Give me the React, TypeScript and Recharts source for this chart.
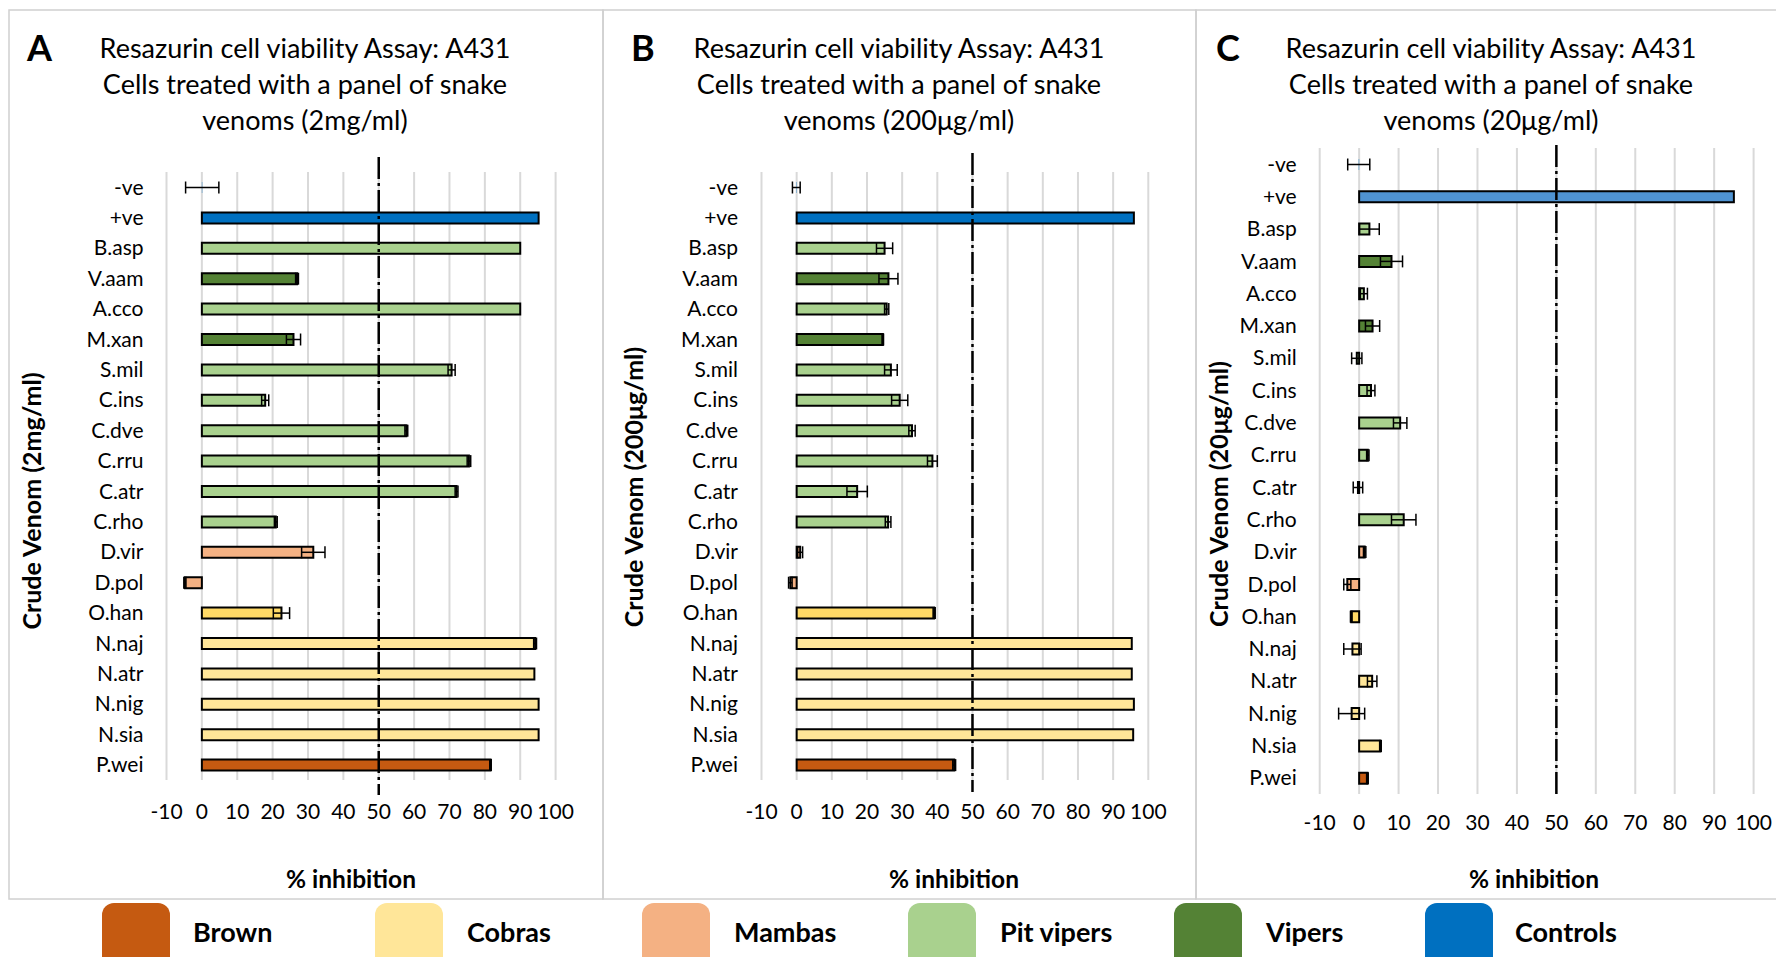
import React from 'react';
import { BarChart, Bar, XAxis, YAxis, CartesianGrid, ErrorBar, ReferenceLine, Cell } from 'recharts';

const FONT = 'Lato, "Open Sans", "Noto Sans", sans-serif';

const categories = ['-ve', '+ve', 'B.asp', 'V.aam', 'A.cco', 'M.xan', 'S.mil', 'C.ins', 'C.dve', 'C.rru', 'C.atr', 'C.rho', 'D.vir', 'D.pol', 'O.han', 'N.naj', 'N.atr', 'N.nig', 'N.sia', 'P.wei'];
const groupOf = ['Controls', 'Controls', 'Pit vipers', 'Vipers', 'Pit vipers', 'Vipers', 'Pit vipers', 'Pit vipers', 'Pit vipers', 'Pit vipers', 'Pit vipers', 'Pit vipers', 'Mambas', 'Mambas', 'Cobras', 'Cobras', 'Cobras', 'Cobras', 'Cobras', 'Brown'];
const xTicks = [-10, 0, 10, 20, 30, 40, 50, 60, 70, 80, 90, 100];

const valuesA = [0.1, 95.2, 90.0, 26.9, 90.0, 25.9, 70.6, 17.9, 57.8, 75.5, 72.0, 20.9, 31.5, -4.8, 22.5, 94.2, 94.0, 95.2, 95.2, 81.6];
const errA = [4.7, 0, 0, 0.4, 0, 2.0, 1.0, 1.0, 0.4, 0.5, 0.4, 0.4, 3.3, 0.3, 2.3, 0.4, 0, 0, 0, 0.2];

const valuesB = [-0.1, 95.9, 25.0, 26.1, 25.6, 24.5, 26.8, 29.3, 32.8, 38.6, 17.2, 26.0, 1.0, -1.8, 39.1, 95.3, 95.3, 95.9, 95.7, 44.8];
const errB = [1.1, 0, 2.3, 2.7, 0.6, 0.2, 1.8, 2.3, 0.9, 1.4, 2.9, 0.8, 0.7, 0.5, 0.3, 0, 0, 0, 0, 0.4];

const valuesC = [-0.1, 95.0, 2.6, 8.2, 1.2, 3.4, -0.6, 3.0, 10.4, 2.2, -0.3, 11.3, 1.4, -3.0, -2.0, -1.7, 3.3, -1.9, 5.4, 2.1];
const errC = [2.8, 0, 2.5, 2.8, 0.9, 1.8, 1.3, 1.0, 1.7, 0.3, 1.2, 3.1, 0.3, 0.9, 0.2, 2.2, 1.2, 3.3, 0.2, 0.2];

const legendItems = ['Brown', 'Cobras', 'Mambas', 'Pit vipers', 'Vipers', 'Controls'];

const titleLine1 = 'Resazurin cell viability Assay: A431';
const titleLine2 = 'Cells treated with a panel of snake';
const titleLine3 = ['venoms (2mg/ml)', 'venoms (200μg/ml)', 'venoms (20μg/ml)'];
const yTitles = ['Crude Venom (2mg/ml)', 'Crude Venom (200μg/ml)', 'Crude Venom (20μg/ml)'];
const panelLetters = ['A', 'B', 'C'];
const xTitle = '% inhibition';

const groupColors: Record<string, string> = {
  Brown: '#C55A11',
  Cobras: '#FFE699',
  Mambas: '#F4B183',
  'Pit vipers': '#A9D18E',
  Vipers: '#548235',
  Controls: '#0070C0',
};
const kingCobraColor = '#FFD966';

function buildData(vals: number[], errs: number[]) {
  return categories.map((name, i) => ({ name, value: vals[i], err: errs[i], group: groupOf[i] }));
}

const dataA = buildData(valuesA, errA);
const dataB = buildData(valuesB, errB);
const dataC = buildData(valuesC, errC);

const XAXIS_H = 40;
const CHART_H = 899;

type PanelProps = {
  left: number;
  width: number;
  data: any[];
  plotTop: number;
  plotBottom: number;
  plotLeft: number;
  plotRight: number;
  yTickGap: number;
  xTickGap: number;
  extAbove: number;
  extBelow: number;
  posColor: string;
};

function Panel(p: PanelProps) {
  const shape = (props: any) => {
    const x1 = props.x1 ?? 0;
    const x2 = props.x2 ?? x1;
    const ya = Math.min(props.y1 ?? 0, props.y2 ?? 0);
    const yb = Math.max(props.y1 ?? 0, props.y2 ?? 0);
    return (
      <line
        x1={x1}
        x2={x2}
        y1={ya - p.extAbove}
        y2={yb + p.extBelow}
        stroke="#000"
        strokeWidth={2.5}
        strokeDasharray="22 4 3 4"
      />
    );
  };
  return (
    <div style={{ position: 'absolute', left: p.left, top: 0 }}>
      <BarChart
        width={p.width}
        height={CHART_H}
        layout="vertical"
        data={p.data}
        margin={{ top: p.plotTop, right: p.width - p.plotRight, bottom: CHART_H - p.plotBottom - XAXIS_H, left: 0 }}
        barSize={11}
      >
        <CartesianGrid horizontal={false} vertical={true} stroke="#d9d9d9" strokeWidth={2} />
        <XAxis
          type="number"
          domain={[-10, 100]}
          ticks={xTicks}
          interval={0}
          allowDataOverflow
          axisLine={false}
          tickLine={false}
          tickSize={0}
          tickMargin={p.xTickGap}
          height={XAXIS_H}
          tick={{ fontSize: 21, fill: '#000', fontFamily: FONT }}
        />
        <YAxis
          type="category"
          dataKey="name"
          width={p.plotLeft}
          interval={0}
          axisLine={false}
          tickLine={false}
          tickSize={0}
          tickMargin={p.yTickGap}
          tick={{ fontSize: 21, fill: '#000', fontFamily: FONT }}
        />
        <Bar dataKey="value" isAnimationActive={false} stroke="#000" strokeWidth={2}>
          {p.data.map((d: any) => (
            <Cell
              key={d.name}
              stroke={Math.abs(d.value) < 0.2 ? 'none' : '#000'}
              fill={d.name === '+ve' ? p.posColor : d.name === 'O.han' ? kingCobraColor : groupColors[d.group]}
            />
          ))}
          <ErrorBar dataKey="err" direction="x" width={6} stroke="#000" strokeWidth={1.5} />
        </Bar>
        <ReferenceLine x={50} stroke="#000" strokeWidth={2.5} shape={shape} />
      </BarChart>
    </div>
  );
}

const titleCenters = [305, 899, 1491];
const letterX = [27, 631, 1216];
const yTitlePos = [
  [41, 501],
  [643, 487],
  [1228, 494],
];
const xTitleX = [351, 954, 1534];
const legendSwatchX = [102, 375, 642, 908, 1174, 1425];
const legendTextX = [193, 467, 734, 1000, 1266, 1515];

export default function App() {
  return (
    <div
      style={{
        position: 'absolute',
        left: 0,
        top: 0,
        width: 1776,
        height: 957,
        overflow: 'hidden',
        background: '#fff',
        fontFamily: FONT,
      }}
    >
      <svg width={1776} height={957} style={{ position: 'absolute', left: 0, top: 0 }}>
        <rect x={9} y={10} width={594} height={889} fill="none" stroke="#d0d0d0" strokeWidth={1.5} />
        <rect x={603} y={10} width={593} height={889} fill="none" stroke="#d0d0d0" strokeWidth={1.5} />
        <rect x={1196} y={10} width={640} height={889} fill="none" stroke="#d0d0d0" strokeWidth={1.5} />
        {titleCenters.map((cx, i) => (
          <g key={'t' + i} fontFamily={FONT} fontSize={27} fill="#000" textAnchor="middle">
            <text x={cx} y={58}>{titleLine1}</text>
            <text x={cx} y={94}>{titleLine2}</text>
            <text x={cx} y={130}>{titleLine3[i]}</text>
          </g>
        ))}
        {letterX.map((x, i) => (
          <text key={'l' + i} x={x} y={61} fontFamily={FONT} fontSize={36} fontWeight={700} fill="#000">
            {panelLetters[i]}
          </text>
        ))}
        {yTitlePos.map(([x, y], i) => (
          <text
            key={'y' + i}
            transform={`translate(${x},${y}) rotate(-90)`}
            textAnchor="middle"
            fontFamily={FONT}
            fontSize={25}
            fontWeight={700}
            fill="#000"
          >
            {yTitles[i]}
          </text>
        ))}
        {xTitleX.map((x, i) => (
          <text key={'x' + i} x={x} y={888} textAnchor="middle" fontFamily={FONT} fontSize={24.5} fontWeight={700} fill="#000">
            {xTitle}
          </text>
        ))}
        {legendItems.map((name, i) => (
          <g key={'lg' + i}>
            <rect x={legendSwatchX[i]} y={903} width={68} height={80} rx={12} ry={12} fill={groupColors[name]} />
            <text x={legendTextX[i]} y={942} fontFamily={FONT} fontSize={27} fontWeight={700} fill="#000">
              {name}
            </text>
          </g>
        ))}
      </svg>
      <Panel
        left={0}
        width={603}
        data={dataA}
        plotTop={172}
        plotBottom={780}
        plotLeft={166.5}
        plotRight={555.6}
        yTickGap={23}
        xTickGap={24}
        extAbove={15}
        extBelow={15}
        posColor={groupColors.Controls}
      />
      <Panel
        left={603}
        width={593}
        data={dataB}
        plotTop={172}
        plotBottom={780}
        plotLeft={158.5}
        plotRight={545.3}
        yTickGap={23.5}
        xTickGap={24}
        extAbove={19}
        extBelow={12}
        posColor={groupColors.Controls}
      />
      <Panel
        left={1196}
        width={580}
        data={dataC}
        plotTop={148}
        plotBottom={794}
        plotLeft={123.7}
        plotRight={557.6}
        yTickGap={23}
        xTickGap={21}
        extAbove={3}
        extBelow={0}
        posColor="#4F93D2"
      />
    </div>
  );
}
